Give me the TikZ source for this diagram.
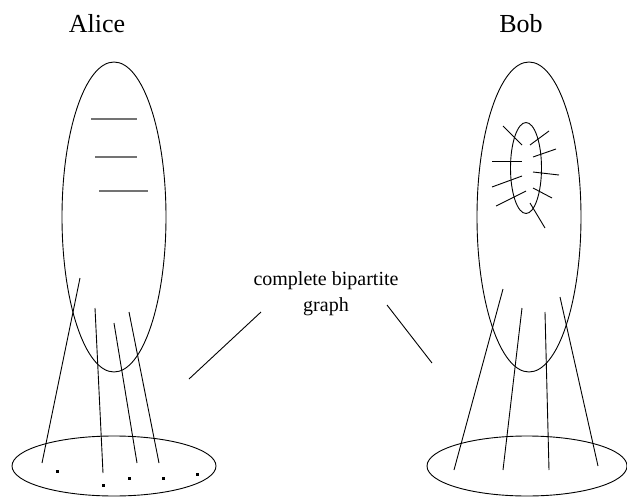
\documentclass[tikz,border=0pt]{standalone}
\usepackage{fontspec}
\setmainfont{Liberation Serif}
\usetikzlibrary{positioning}
\tikzset{
  graymark/.style={draw=black!55, line width=1.3pt},
  dotbox/.style={fill=black, minimum size=3pt, inner sep=0pt},
  bigname/.style={font=\fontsize{26}{30}\selectfont, anchor=base},
}

\begin{document}
\begin{tikzpicture}[x=1pt, y=-1pt, line width=0.9pt]
  \useasboundingbox (0,0) rectangle (627,498);
  % Names and label
  \node[bigname] (alice) at (97,32) {Alice};
  \node[bigname] (bob) at (521,32) {Bob};
  \node[font=\fontsize{20}{26}\selectfont, align=center] (label) at (326,294)
    {complete bipartite\\graph};
  \coordinate (la) at (261,312);
  \coordinate (lb) at (189,379);
  \coordinate (ra) at (387,305);
  \coordinate (rb) at (432,363);
  \draw (la) -- (lb);
  \draw (ra) -- (rb);
  % Alice
  \draw (114,217) ellipse [x radius=52pt, y radius=155pt];
  \draw (114,466) ellipse [x radius=102pt, y radius=30pt];
  \foreach \y/\xa/\xb in {119/91/137, 157/95/137, 191/99/148}
    \draw[graymark] (\xa,\y) -- (\xb,\y);
  \foreach \xa/\ya/\xb/\yb in {80/278/42/463, 95/308/103/473,
                              114/323/137/463, 129/312/159/463}
    \draw (\xa,\ya) -- (\xb,\yb);
  \foreach \x/\y [count=\i] in {57/471, 103/485, 129/478, 163/478, 197/474}
    \node[dotbox] (d\i) at (\x,\y) {};
  % Bob
  \draw (529,217) ellipse [x radius=52pt, y radius=155pt];
  \draw (527,466) ellipse [x radius=100pt, y radius=30pt];
  \draw (526,168) ellipse [x radius=15.5pt, y radius=45.5pt];
  \foreach \xa/\ya/\xb/\yb in {503/126/522/145, 549/131/530/145,
                              556/149/533/157, 492/161/522/161,
                              533/172/559/175, 492/187/522/176,
                              496/206/526/191, 533/188/552/198,
                              530/203/545/228}
    \draw (\xa,\ya) -- (\xb,\yb);
  \foreach \xa/\ya/\xb/\yb in {503/289/454/470, 522/308/503/470,
                              545/312/549/470, 560/297/598/466}
    \draw (\xa,\ya) -- (\xb,\yb);
\end{tikzpicture}
\end{document}
